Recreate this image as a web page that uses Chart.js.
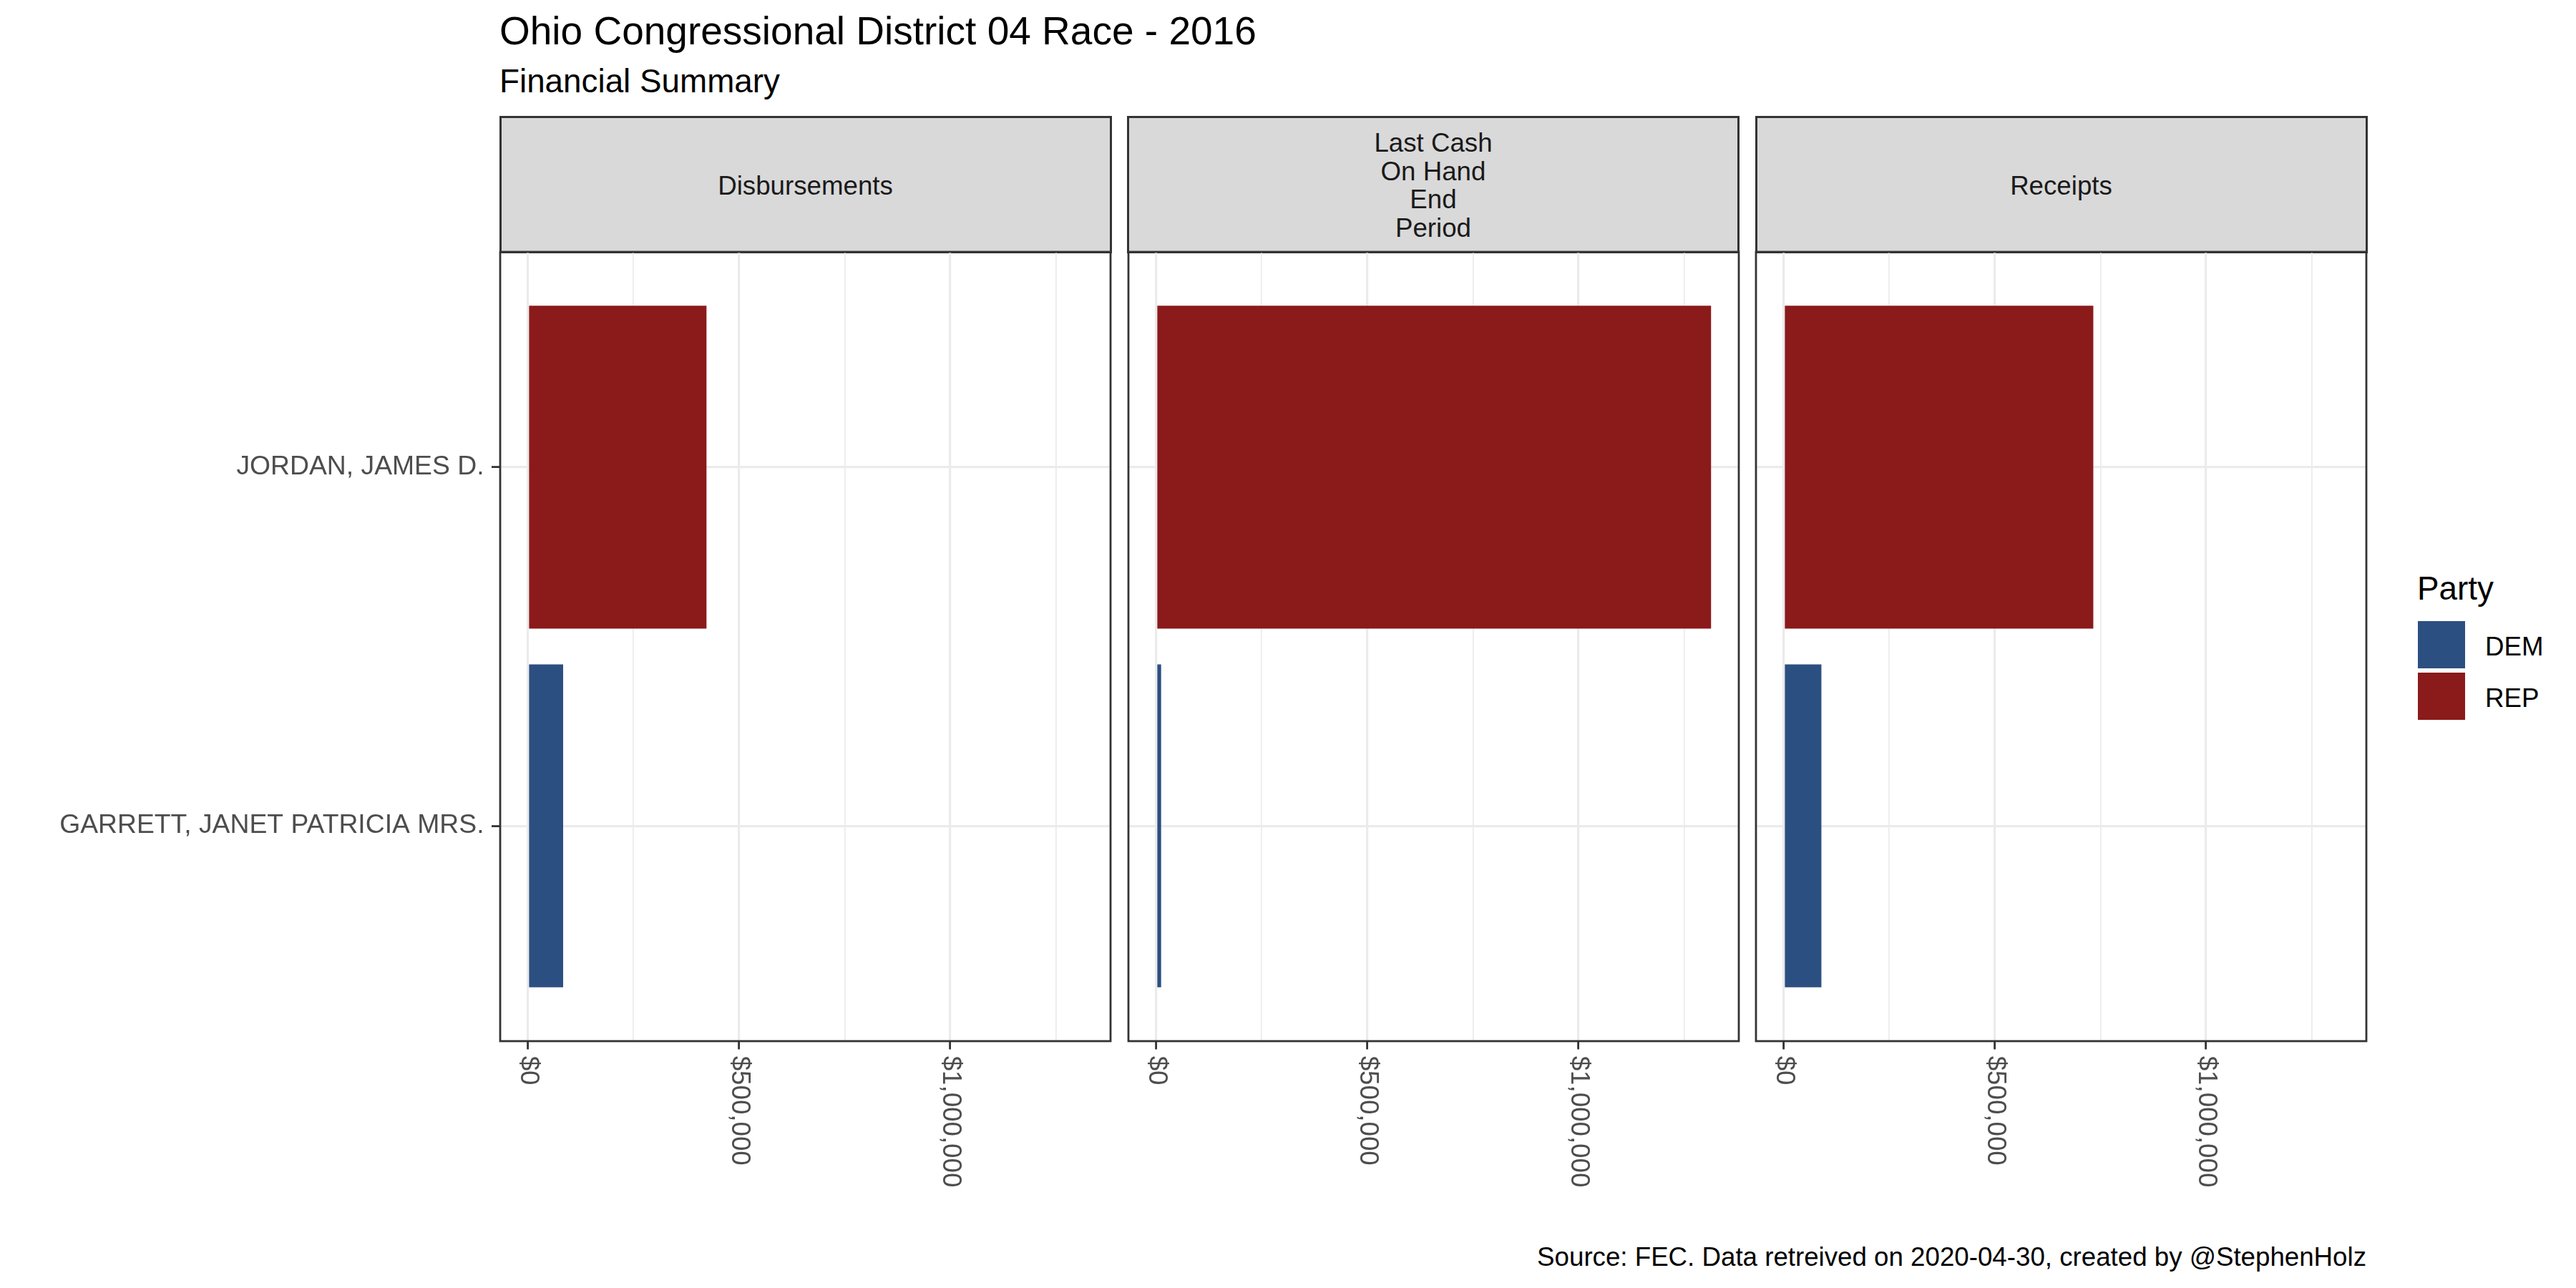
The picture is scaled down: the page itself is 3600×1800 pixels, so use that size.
<!DOCTYPE html>
<html><head><meta charset="utf-8">
<script src="https://cdn.jsdelivr.net/npm/chart.js@4"></script>
<style>
html,body{margin:0;padding:0;background:#fff;}
body{width:3600px;height:1800px;position:relative;overflow:hidden;font-family:"Liberation Sans",Arial,sans-serif;}
.t{position:absolute;white-space:nowrap;line-height:1;}
.strip{position:absolute;box-sizing:border-box;background:#D9D9D9;border:3px solid #333333;}
.st{position:absolute;text-align:center;color:#1A1A1A;font-size:36.7px;line-height:39.5px;white-space:pre;}
.pc{position:absolute;}
.key{position:absolute;width:66px;height:66px;}
</style></head>
<body>
<div id="root"></div>
<script>
// ---- data ----
const candidates = ['JORDAN, JAMES D.', 'GARRETT, JANET PATRICIA MRS.'];
const parties = ['REP', 'DEM'];
const facetNames = ['Disbursements', 'Last Cash\nOn Hand\nEnd\nPeriod', 'Receipts'];
const disbursements = [422800, 83400];
const cashOnHand = [1313800, 11700];
const receipts = [733000, 89200];
const xTickValues = [0, 500000, 1000000];
const xTickLabels = ['$0', '$500,000', '$1,000,000'];
const xMinorValues = [250000, 750000, 1250000];
const legendParties = ['DEM', 'REP'];
const partyColors = {DEM: '#2C4F81', REP: '#8B1A1A'};
const titleText = 'Ohio Congressional District 04 Race - 2016';
const subtitleText = 'Financial Summary';
const captionText = 'Source: FEC. Data retreived on 2020-04-30, created by @StephenHolz';

// ---- layout ----
const FONT = '"Liberation Sans", Arial, sans-serif';
const PW = 853, PT = 352, PH = 1103, BOT = 230, PAD = 10;
const panelLefts = [699, 1576.5, 2454];
const STRIP_TOP = 163;
const root = document.getElementById('root');

function addText(txt, left, baseline, fs, color, extra) {
  const d = document.createElement('div');
  d.className = 't';
  d.textContent = txt;
  d.style.fontSize = fs + 'px';
  d.style.color = color;
  d.style.top = (baseline - 0.8465 * fs) + 'px';
  if (left !== null) d.style.left = left + 'px';
  if (extra) Object.assign(d.style, extra);
  root.appendChild(d);
  return d;
}

addText(titleText, 698, 63, 55, '#000');
addText(subtitleText, 698, 130, 45.8, '#000');
addText(captionText, null, 1770, 36.7, '#000', {right: (3600 - 3307) + 'px'});

// legend
addText('Party', 3378, 839, 45.8, '#000');
legendParties.forEach((p, k) => {
  const top = 868 + k * 72;
  const key = document.createElement('div');
  key.className = 'key';
  key.style.left = '3379px';
  key.style.top = top + 'px';
  key.style.background = partyColors[p];
  root.appendChild(key);
  addText(p, 3473, top + 33 + 15.7, 36.7, '#000');
});

const maxVal = Math.max(...disbursements, ...cashOnHand, ...receipts);
const xMin = -0.05 * maxVal, xMax = 1.05 * maxVal;
const panelValues = [disbursements, cashOnHand, receipts];

const isMajor = (c) => c && c.tick && xTickValues.includes(c.tick.value);

const decoPlugin = {
  id: 'panelDeco',
  afterDraw(chart) {
    const {ctx, chartArea: a} = chart;
    const x = chart.scales.x;
    ctx.save();
    ctx.strokeStyle = '#333333';
    ctx.lineWidth = 2.8;
    ctx.strokeRect(a.left, a.top, a.right - a.left, a.bottom - a.top);
    ctx.fillStyle = '#4D4D4D';
    ctx.font = '36.7px ' + FONT;
    ctx.textAlign = 'left';
    ctx.textBaseline = 'middle';
    xTickValues.forEach((v, k) => {
      const px = x.getPixelForValue(v);
      ctx.save();
      ctx.translate(px, a.bottom + 11.5 + 9.2);
      ctx.rotate(Math.PI / 2);
      ctx.fillText(xTickLabels[k], 0, 0);
      ctx.restore();
    });
    ctx.restore();
  }
};

panelLefts.forEach((pl, i) => {
  // strip
  const s = document.createElement('div');
  s.className = 'strip';
  s.style.left = (pl - 1.5) + 'px';
  s.style.top = (STRIP_TOP - 1.5) + 'px';
  s.style.width = (PW + 3) + 'px';
  s.style.height = (PT - STRIP_TOP + 3) + 'px';
  root.appendChild(s);
  const lines = facetNames[i].split('\n').length;
  const st = document.createElement('div');
  st.className = 'st';
  st.textContent = facetNames[i];
  st.style.left = pl + 'px';
  st.style.width = PW + 'px';
  st.style.top = (272 - (lines - 1) / 2 * 39.5 - 32.47) + 'px';
  root.appendChild(st);

  // chart
  const leftReserve = i === 0 ? pl : PAD;
  const W = leftReserve + PW + PAD, H = PAD + PH + BOT;
  const wrap = document.createElement('div');
  wrap.className = 'pc';
  wrap.style.left = (pl - leftReserve) + 'px';
  wrap.style.top = (PT - PAD) + 'px';
  wrap.style.width = W + 'px';
  wrap.style.height = H + 'px';
  const cv = document.createElement('canvas');
  cv.style.width = W + 'px';
  cv.style.height = H + 'px';
  cv.width = W; cv.height = H;
  wrap.appendChild(cv);
  root.appendChild(wrap);

  const vals = panelValues[i];
  new Chart(cv, {
    type: 'bar',
    data: {
      datasets: [{
        label: facetNames[i],
        data: candidates.map((c, j) => ({x: vals[j], y: j + 1})),
        backgroundColor: parties.map(p => partyColors[p]),
        borderWidth: 0,
        barPercentage: 0.9,
        categoryPercentage: 1
      }]
    },
    options: {
      indexAxis: 'y',
      responsive: false,
      maintainAspectRatio: false,
      animation: false,
      layout: {padding: {top: PAD, right: PAD, left: 0, bottom: 0}},
      plugins: {legend: {display: false}, tooltip: {enabled: false}, title: {display: false}},
      scales: {
        x: {
          type: 'linear', min: xMin, max: xMax, position: 'bottom',
          offset: false,
          border: {display: false},
          afterBuildTicks: (sc) => {
            sc.ticks = [...xTickValues, ...xMinorValues].sort((a, b) => a - b).map(v => ({value: v}));
          },
          afterFit: (sc) => { sc.height = BOT; sc.paddingLeft = 0; sc.paddingRight = 0; },
          ticks: {display: false},
          grid: {
            offset: false,
            color: '#EBEBEB',
            lineWidth: (c) => isMajor(c) ? 3.2 : 1.7,
            drawTicks: true,
            tickLength: 11.5,
            tickColor: (c) => isMajor(c) ? '#333333' : 'rgba(0,0,0,0)',
            tickWidth: 2.8
          }
        },
        y: {
          type: 'linear', min: 0.4, max: 2.6, reverse: true, position: 'left',
          offset: false,
          border: {display: false},
          afterBuildTicks: (sc) => { sc.ticks = candidates.map((c, j) => ({value: j + 1})); },
          afterFit: (sc) => { sc.width = leftReserve; sc.paddingTop = 0; sc.paddingBottom = 0; },
          ticks: {
            display: i === 0,
            autoSkip: false,
            callback: (v) => candidates[Math.round(v) - 1],
            font: {family: FONT, size: 37.3},
            color: '#4D4D4D',
            padding: 10.5
          },
          grid: {
            offset: false,
            color: '#EBEBEB', lineWidth: 3.2,
            drawTicks: i === 0, tickLength: 12,
            tickColor: '#333333', tickWidth: 2.8
          }
        }
      }
    },
    plugins: [decoPlugin]
  });
});
</script>
</body></html>
